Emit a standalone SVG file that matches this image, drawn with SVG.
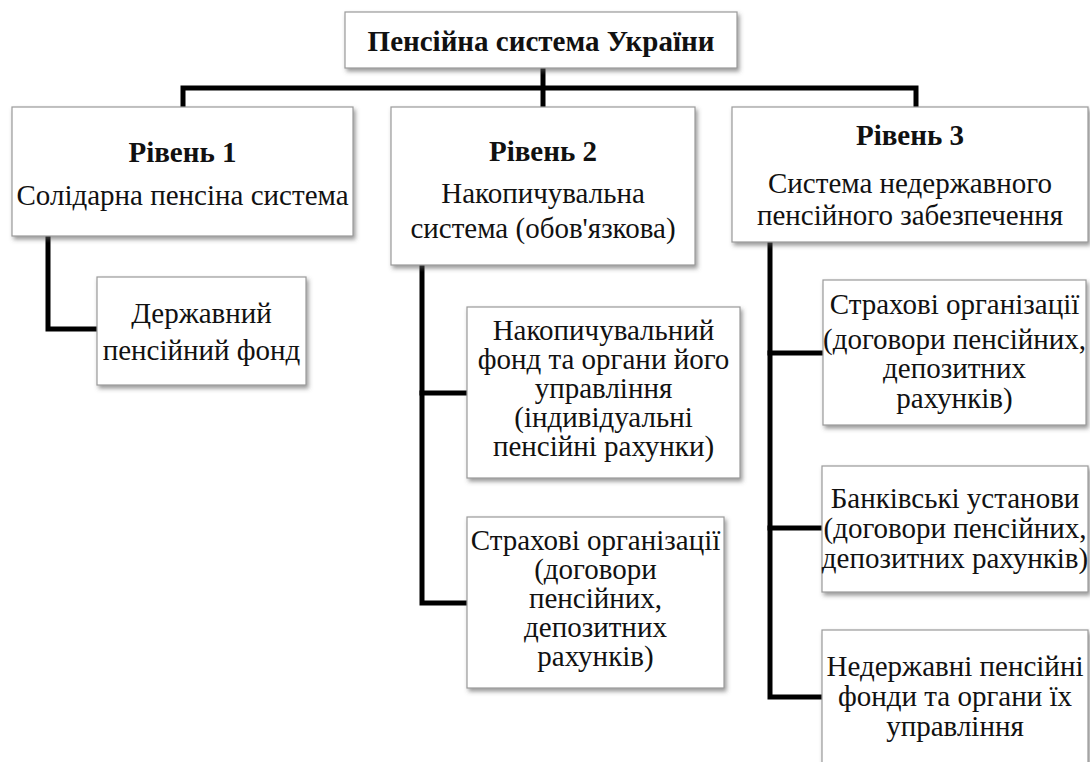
<svg xmlns="http://www.w3.org/2000/svg" width="1090" height="762" viewBox="0 0 1090 762">
<defs>
<filter id="sh" x="-10%" y="-10%" width="120%" height="130%">
<feDropShadow dx="2" dy="3" stdDeviation="2" flood-color="#555" flood-opacity="0.6"/>
</filter>
<style>
.box{fill:#fff;stroke:#9a9a9a;stroke-width:1.2;filter:url(#sh)}
text{font-family:"Liberation Serif","Times New Roman",serif;fill:#111;text-anchor:middle}
.t{font-size:29px}
.b{font-size:29px;font-weight:bold}
.h{font-size:29px;font-weight:bold}
.c{fill:none;stroke:#000;stroke-width:5;stroke-linejoin:miter;stroke-linecap:square}
</style>
</defs>
<rect width="1090" height="762" fill="#fff"/>
<g id="connectors">
<path class="c" d="M543 68 V105"/>
<path class="c" d="M183 105 V88 H916 V105"/>
<path class="c" d="M48 238 V329 H97"/>
<path class="c" d="M422 267 V603 H467"/>
<path class="c" d="M422 393 H467"/>
<path class="c" d="M770 244 V697 H822"/>
<path class="c" d="M770 353 H823"/>
<path class="c" d="M770 528 H822"/>
</g>
<g id="root">
<rect class="box" x="345" y="12" width="392" height="56"/>
<text class="h" x="541" y="51">Пенсійна система України</text>
</g>
<g id="level1">
<rect class="box" x="12" y="107" width="341" height="129"/>
<text class="b" x="182.5" y="162">Рівень 1</text>
<text class="t" x="182.5" y="205">Солідарна пенсіна система</text>
</g>
<g id="level2">
<rect class="box" x="391" y="107" width="304" height="158"/>
<text class="b" x="543" y="161">Рівень 2</text>
<text class="t" x="543" y="203">Накопичувальна</text>
<text class="t" x="543" y="238">система (обов'язкова)</text>
</g>
<g id="level3">
<rect class="box" x="732" y="107" width="356" height="135"/>
<text class="b" x="910" y="145">Рівень 3</text>
<text class="t" x="910" y="193">Система недержавного</text>
<text class="t" x="910" y="225">пенсійного забезпечення</text>
</g>
<g id="state-fund">
<rect class="box" x="97" y="277" width="209" height="108"/>
<text class="t" x="201.5" y="323">Державний</text>
<text class="t" x="201.5" y="360">пенсійний фонд</text>
</g>
<g id="accum-fund">
<rect class="box" x="467" y="307" width="273" height="171"/>
<text class="t" x="603.5" y="340">Накопичувальний</text>
<text class="t" x="603.5" y="369">фонд та органи його</text>
<text class="t" x="603.5" y="398">управління</text>
<text class="t" x="603.5" y="427">(індивідуальні</text>
<text class="t" x="603.5" y="456">пенсійні рахунки)</text>
</g>
<g id="insurance-2">
<rect class="box" x="467" y="517" width="257" height="171"/>
<text class="t" x="595.5" y="550">Страхові організації</text>
<text class="t" x="595.5" y="579">(договори</text>
<text class="t" x="595.5" y="608">пенсійних,</text>
<text class="t" x="595.5" y="637">депозитних</text>
<text class="t" x="595.5" y="666">рахунків)</text>
</g>
<g id="insurance-3">
<rect class="box" x="823" y="280" width="263" height="145"/>
<text class="t" x="954.5" y="314">Страхові організації</text>
<text class="t" x="954.5" y="349">(договори пенсійних,</text>
<text class="t" x="954.5" y="378">депозитних</text>
<text class="t" x="954.5" y="408">рахунків)</text>
</g>
<g id="banks">
<rect class="box" x="822" y="466" width="266" height="126"/>
<text class="t" x="955" y="508">Банківські установи</text>
<text class="t" x="955" y="538">(договори пенсійних,</text>
<text class="t" x="955" y="568">депозитних рахунків)</text>
</g>
<g id="npf">
<rect class="box" x="822" y="630" width="266" height="140"/>
<text class="t" x="955" y="676">Недержавні пенсійні</text>
<text class="t" x="955" y="706">фонди та органи їх</text>
<text class="t" x="955" y="736">управління</text>
</g>
</svg>
